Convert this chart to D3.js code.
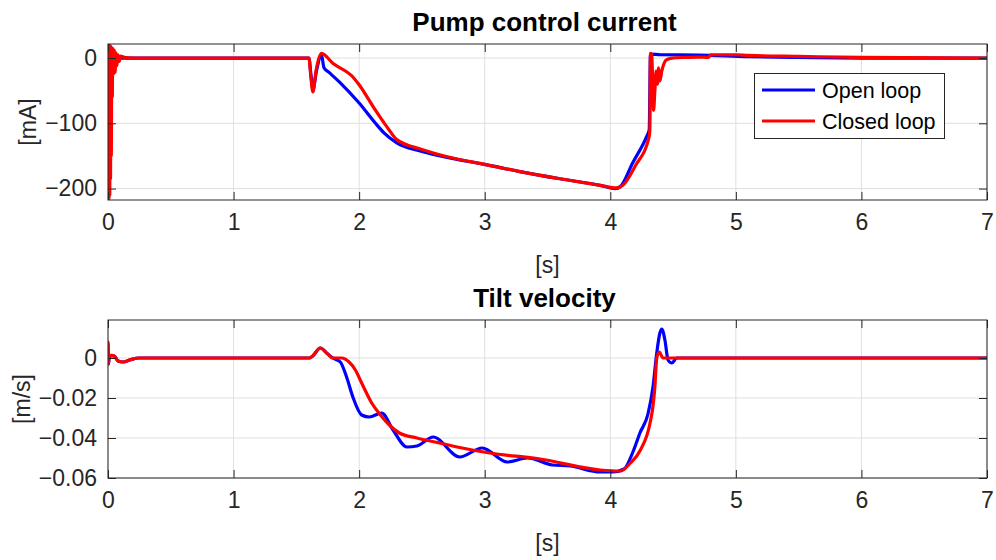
<!DOCTYPE html>
<html>
<head>
<meta charset="utf-8">
<script src="https://cdn.jsdelivr.net/npm/d3@7"></script>
<style>
  html, body { margin: 0; padding: 0; background: #fff; }
  svg { display: block; font-family: "Liberation Sans", Arial, Helvetica, sans-serif; }
</style>
</head>
<body>
<svg id="fig" width="996" height="560"></svg>
<script>
// ---- data: [time (s), value] ----
const pumpOpen = [
  [0, 0], [0.004, -40], [0.008, 8], [0.014, -15], [0.02, 4], [0.04, -3], [0.08, 0],
  [1.6, 0], [1.616, -25], [1.632, -48], [1.66, -20], [1.70, 5], [1.72, -15], [1.76, -22],
  [1.85, -38], [2.0, -69], [2.13, -100], [2.2, -115], [2.3, -130], [2.5, -143],
  [2.72, -153], [3.0, -163], [3.28, -174], [3.6, -185], [3.92, -195], [4.04, -200],
  [4.08, -197], [4.18, -160], [4.29, -120], [4.31, -110], [4.32, 6], [4.4, 5],
  [4.7, 4.5], [5.1, 2], [5.5, 0.8], [6, 0], [7, 0]
];
const pumpClosed = [
  [0, 0], [0.002, -217], [0.005, 20], [0.008, -215], [0.011, 20], [0.014, -210],
  [0.017, 18], [0.02, -185], [0.023, 18], [0.026, -150], [0.03, 15], [0.034, -60],
  [0.038, 15], [0.043, -25], [0.05, 12], [0.056, -22], [0.063, 8], [0.07, -12],
  [0.08, 5], [0.09, -5], [0.1, 3], [0.13, 1], [0.2, 0],
  [1.6, 0], [1.616, -30], [1.632, -52], [1.656, -20], [1.70, 7], [1.79, -8],
  [1.95, -29], [2.0, -41], [2.11, -74], [2.22, -105], [2.3, -125], [2.5, -140],
  [2.72, -152], [3.0, -163], [3.28, -174], [3.6, -185], [3.92, -195], [4.05, -199],
  [4.1, -195], [4.2, -165], [4.31, -120], [4.315, -110], [4.32, 7], [4.33, 5],
  [4.345, -80], [4.355, -50], [4.365, -20], [4.375, -40], [4.385, -15], [4.395, -35],
  [4.41, -20], [4.425, -10], [4.44, -4], [4.47, -1], [4.5, 0], [4.6, 1], [4.7, 1.5],
  [4.78, 1], [4.8, 5], [5.0, 5], [5.1, 4], [5.5, 2.5], [6, 1], [7, 0]
];
const tiltOpen = [
  [0, 0.007], [0.005, -0.003], [0.01, 0.001], [0.05, 0.001], [0.08, -0.0015],
  [0.12, -0.002], [0.18, -0.0008], [0.25, 0],
  [1.6, 0], [1.63, 0.001], [1.69, 0.005], [1.75, 0.002], [1.79, 0], [1.85, -0.002],
  [1.9, -0.0095], [1.95, -0.0195], [2.02, -0.0285], [2.08, -0.0295], [2.18, -0.0275],
  [2.27, -0.036], [2.38, -0.0445], [2.46, -0.044], [2.59, -0.0395], [2.80, -0.0495],
  [2.98, -0.045], [3.18, -0.052], [3.34, -0.05], [3.54, -0.0535], [3.68, -0.054],
  [3.92, -0.057], [4.02, -0.057], [4.11, -0.0555], [4.18, -0.047], [4.236, -0.0375],
  [4.3, -0.028], [4.34, -0.0145], [4.37, 0.0025], [4.395, 0.0125], [4.41, 0.0145],
  [4.435, 0.009], [4.46, -0.001], [4.49, -0.0025], [4.53, 0], [7, 0]
];
const tiltClosed = [
  [0, 0.008], [0.004, -0.003], [0.01, 0.0015], [0.05, 0.001], [0.08, -0.0015],
  [0.12, -0.002], [0.18, -0.0008], [0.25, 0],
  [1.6, 0], [1.63, 0.001], [1.69, 0.005], [1.75, 0.002], [1.79, 0], [1.86, 0],
  [1.92, -0.002], [1.97, -0.006], [2.02, -0.0125], [2.1, -0.0225], [2.17, -0.0285],
  [2.24, -0.0335], [2.32, -0.0375], [2.46, -0.04], [2.64, -0.0425], [2.78, -0.0445],
  [3.04, -0.0475], [3.44, -0.0505], [3.92, -0.056], [4.08, -0.0565], [4.16, -0.0525],
  [4.24, -0.046], [4.315, -0.033], [4.34, -0.024], [4.355, -0.0145], [4.37, 0],
  [4.39, 0.003], [4.42, 0], [7, 0]
];

const timeTicks = [0, 1, 2, 3, 4, 5, 6, 7];
const pumpTicks = [0, -100, -200];
const tiltTicks = [0, -0.02, -0.04, -0.06];
const seriesNames = ["Open loop", "Closed loop"];
const seriesColors = ["#0000ff", "#ff0000"];

const svg = d3.select("#fig");
const axisColor = "#262626";
const gridColor = "#dfdfdf";

function drawPanel(opts) {
  const { top, bottom, left, right, yDomain, yTicks, yFmt, title, yLabel, series, clipId } = opts;
  const x = d3.scaleLinear().domain([0, 7]).range([left, right]);
  const y = d3.scaleLinear().domain(yDomain).range([bottom, top]);
  const g = svg.append("g");

  // grid
  g.append("g").selectAll("line").data(timeTicks).join("line")
    .attr("x1", d => x(d)).attr("x2", d => x(d)).attr("y1", top).attr("y2", bottom)
    .attr("stroke", gridColor).attr("stroke-width", 1);
  g.append("g").selectAll("line").data(yTicks).join("line")
    .attr("y1", d => y(d)).attr("y2", d => y(d)).attr("x1", left).attr("x2", right)
    .attr("stroke", gridColor).attr("stroke-width", 1);

  // data lines
  svg.append("clipPath").attr("id", clipId).append("rect")
    .attr("x", left).attr("y", top).attr("width", right - left).attr("height", bottom - top);
  const line = d3.line().x(d => x(d[0])).y(d => y(d[1])).curve(d3.curveMonotoneX);
  const lg = g.append("g").attr("clip-path", `url(#${clipId})`);
  series.forEach((s, i) => {
    lg.append("path").datum(s).attr("d", line)
      .attr("fill", "none").attr("stroke", seriesColors[i])
      .attr("stroke-width", 3.2).attr("stroke-linejoin", "round").attr("stroke-linecap", "round");
  });

  // axes (ticks pointing inward, box)
  const xAxisB = d3.axisBottom(x).tickValues(timeTicks).tickSize(-8).tickPadding(14).tickFormat(d3.format("d"));
  const xAxisT = d3.axisTop(x).tickValues(timeTicks).tickSize(-8).tickFormat("");
  const yAxisL = d3.axisLeft(y).tickValues(yTicks).tickSize(-8).tickPadding(11).tickFormat(yFmt);
  const yAxisR = d3.axisRight(y).tickValues(yTicks).tickSize(-8).tickFormat("");
  const styleAxis = sel => {
    sel.select(".domain").remove();
    sel.selectAll(".tick line").attr("stroke", axisColor).attr("stroke-width", 1);
    sel.selectAll("text").attr("fill", "#262626").style("font-size", "23px")
      .style("font-family", '"Liberation Sans", Arial, sans-serif');
  };
  g.append("g").attr("transform", `translate(0,${bottom})`).call(xAxisB).call(styleAxis);
  g.append("g").attr("transform", `translate(0,${top})`).call(xAxisT).call(styleAxis);
  g.append("g").attr("transform", `translate(${left},0)`).call(yAxisL).call(styleAxis);
  g.append("g").attr("transform", `translate(${right},0)`).call(yAxisR).call(styleAxis);
  g.append("rect").attr("x", left).attr("y", top).attr("width", right - left).attr("height", bottom - top)
    .attr("fill", "none").attr("stroke", axisColor).attr("stroke-width", 1);

  // title and labels
  g.append("text").attr("x", (left + right) / 2 - 3).attr("y", top - 13)
    .attr("text-anchor", "middle").style("font-weight", "bold").style("font-size", "26px")
    .attr("fill", "#000").text(title);
  g.append("text").attr("x", (left + right) / 2).attr("y", bottom + 73)
    .attr("text-anchor", "middle").style("font-size", "23px").attr("fill", "#262626").text("[s]");
  g.append("text").attr("transform", `translate(${opts.yLabelX},${(top + bottom) / 2}) rotate(-90)`)
    .attr("text-anchor", "middle").style("font-size", "23px").attr("fill", "#262626").text(yLabel);
  return { x, y, g };
}

drawPanel({
  top: 44, bottom: 200, left: 108, right: 987,
  yDomain: [-217.5, 21.5], yTicks: pumpTicks, yFmt: d3.format("d"),
  title: "Pump control current", yLabel: "[mA]", yLabelX: 36,
  series: [pumpOpen, pumpClosed], clipId: "clipTop"
});

drawPanel({
  top: 320, bottom: 478, left: 108, right: 987,
  yDomain: [-0.06, 0.019], yTicks: tiltTicks,
  yFmt: d => d === 0 ? "0" : d3.format(".2f")(d),
  title: "Tilt velocity", yLabel: "[m/s]", yLabelX: 30,
  series: [tiltOpen, tiltClosed], clipId: "clipBottom"
});

// legend
const leg = svg.append("g");
leg.append("rect").attr("x", 754.5).attr("y", 73.5).attr("width", 190).attr("height", 65)
  .attr("fill", "#fff").attr("stroke", axisColor).attr("stroke-width", 1);
seriesNames.forEach((name, i) => {
  const yy = 90 + i * 31;
  leg.append("line").attr("x1", 762).attr("x2", 815).attr("y1", yy).attr("y2", yy)
    .attr("stroke", seriesColors[i]).attr("stroke-width", 3.2);
  leg.append("text").attr("x", 822).attr("y", yy + 8).style("font-size", "21.5px")
    .attr("fill", "#000").text(name);
});
</script>
</body>
</html>
